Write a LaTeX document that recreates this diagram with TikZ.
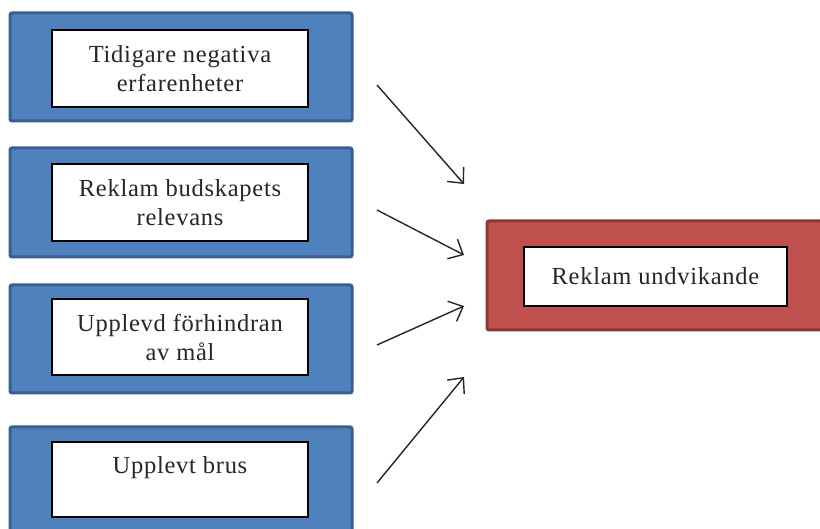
\documentclass[tikz,border=0pt]{standalone}
\usepackage{fontspec}
\setmainfont{Liberation Serif}[LetterSpace=3]
\usetikzlibrary{arrows.meta}
\definecolor{bluefill}{HTML}{4F81BD}
\definecolor{blueedge}{HTML}{3A5F8E}
\definecolor{redfill}{HTML}{C0504D}
\definecolor{rededge}{HTML}{8C3836}
\begin{document}
\begin{tikzpicture}[x=1pt,y=-1pt,
  outerblue/.style={draw=blueedge,line width=3pt,fill=bluefill,rounded corners=2pt,inner sep=0pt},
  outerred/.style={draw=rededge,line width=3pt,fill=redfill,rounded corners=2pt,inner sep=0pt},
  innerbox/.style={draw=black,line width=1.4pt,fill=white,inner sep=0pt,align=center,
    font=\fontsize{24.5}{29}\selectfont,text=black!85},
  arr/.style={line width=1.4pt,draw=black!85,-{Straight Barb[length=12pt,width=22pt,line width=1.4pt]}}]
\useasboundingbox (0,0) rectangle (820,529);
\fill[white] (0,0) rectangle (820,529);
% outer boxes
\node[outerblue,minimum width=342,minimum height=108] (o1) at (181,67) {};
\node[outerblue,minimum width=342,minimum height=109] (o2) at (181,202.5) {};
\node[outerblue,minimum width=342,minimum height=108] (o3) at (181,339) {};
\node[outerblue,minimum width=342,minimum height=109] (o4) at (181,481.5) {};
\node[outerred,minimum width=335,minimum height=109] (o5) at (654.5,275.5) {};
% inner boxes
\node[innerbox,minimum width=256,minimum height=77] (i1) at (180,68.5) {Tidigare negativa\\erfarenheter};
\node[innerbox,minimum width=256,minimum height=77] (i2) at (180,202.5) {Reklam budskapets\\relevans};
\node[innerbox,minimum width=256,minimum height=76] (i3) at (180,337) {Upplevd förhindran\\av mål};
\node[innerbox,minimum width=256,minimum height=75] (i4) at (180,479.5) {Upplevt brus\\\mbox{}};
\node[innerbox,minimum width=263,minimum height=59] (i5) at (655.5,276.5) {Reklam undvikande};
% arrow endpoints
\coordinate (s1) at (377,85);  \coordinate (e1) at (464,184);
\coordinate (s2) at (377,210); \coordinate (e2) at (464,255);
\coordinate (s3) at (377,345); \coordinate (e3) at (464,306);
\coordinate (s4) at (377,483); \coordinate (e4) at (464,377);
\draw[arr] (s1) -- (e1);
\draw[arr] (s2) -- (e2);
\draw[arr] (s3) -- (e3);
\draw[arr] (s4) -- (e4);
\end{tikzpicture}
\end{document}
